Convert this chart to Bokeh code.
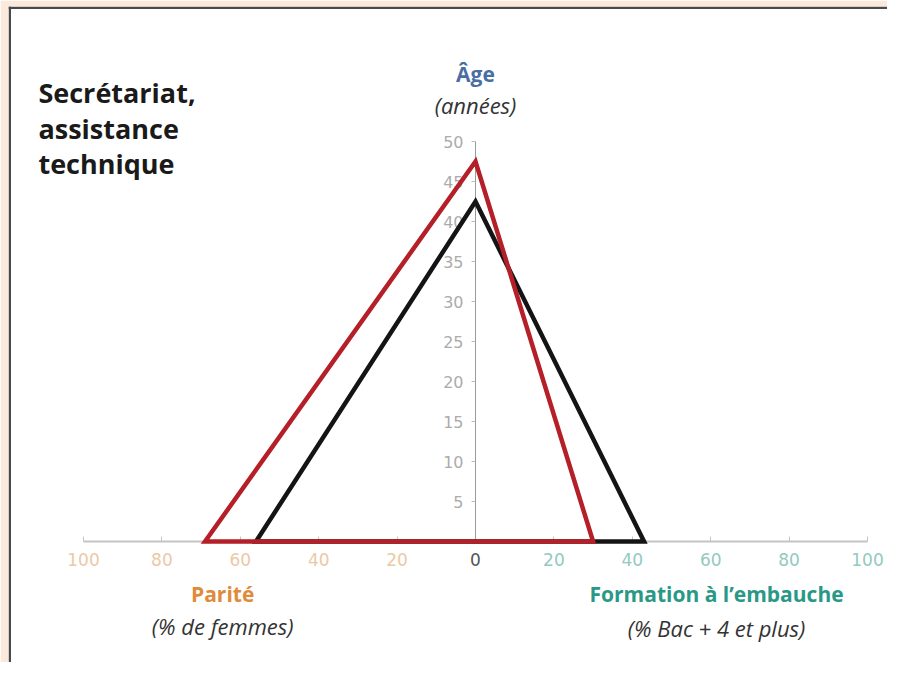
from bokeh.plotting import figure
from bokeh.models import LinearAxis, FixedTicker, Label, Range1d, Span
from bokeh.embed import file_html
from bokeh.resources import INLINE

# ---- data ----
series_names = ["Ensemble", "Secrétariat, assistance technique"]
parite = [56, 69]          # % de femmes (plotted to the left)
formation = [43, 30]       # % Bac+4 et plus (plotted to the right)
age = [42.5, 47.5]         # années (vertical)
series_colors = ["#141414", "#b51f27"]

x_ticks_side = [20, 40, 60, 80, 100]
y_ticks = [5, 10, 15, 20, 25, 30, 35, 40, 45, 50]

W, H = 887, 662
X0, X1, Y0, Y1 = -119.13, 105.1, -15.125, 66.875
p = figure(width=W, height=H, output_backend="svg", toolbar_location=None,
           x_range=Range1d(X0, X1), y_range=Range1d(Y0, Y1),
           x_axis_type=None, y_axis_type=None,
           min_border=0, min_border_left=8, min_border_right=0,
           min_border_top=6, min_border_bottom=0)
p.background_fill_color = "white"
p.border_fill_color = "#fbe9dc"
p.outline_line_color = None

# frame border (top and left only, as in the cropped original)
p.add_layout(Span(location=Y1 - 0.16, dimension="width", line_color="#4a4a4a", line_width=2.5))
p.add_layout(Span(location=X0 + 0.32, dimension="height", line_color="#4a4a4a", line_width=2.5))

# ---- axes ----
axis_gray = "#c4c4c4"
left_ax = LinearAxis(fixed_location=0, bounds=(-100, 0),
                     ticker=FixedTicker(ticks=[-t for t in x_ticks_side]),
                     major_label_overrides={-t: str(t) for t in x_ticks_side})
right_ax = LinearAxis(fixed_location=0, bounds=(0, 100),
                      ticker=FixedTicker(ticks=x_ticks_side))
zero_ax = LinearAxis(fixed_location=0, ticker=FixedTicker(ticks=[0]))
for ax, col in [(left_ax, "#ebc9a6"), (right_ax, "#93c9c0"), (zero_ax, "#555555")]:
    is_zero = ax is zero_ax
    ax.axis_line_color = None if is_zero else axis_gray
    ax.axis_line_width = 2
    ax.major_tick_line_color = None if is_zero else axis_gray
    ax.major_tick_in = 5
    ax.major_tick_out = 0
    ax.minor_tick_line_color = None
    ax.major_label_text_color = col
    ax.major_label_text_font = "DejaVu Sans"
    ax.major_label_text_font_size = "17px"
    ax.major_label_standoff = 11
    ax.level = "underlay"
    p.add_layout(ax, "below")

y_ax = LinearAxis(fixed_location=0, bounds=(0, 50), ticker=FixedTicker(ticks=y_ticks))
y_ax.axis_line_color = "#9a9a9a"
y_ax.axis_line_width = 1
y_ax.major_tick_line_color = "#bbbbbb"
y_ax.major_tick_in = 0
y_ax.major_tick_out = 4
y_ax.minor_tick_line_color = None
y_ax.major_label_text_color = "#ababab"
y_ax.major_label_text_font = "DejaVu Sans"
y_ax.major_label_text_font_size = "16px"
y_ax.major_label_standoff = 8
y_ax.level = "underlay"
p.add_layout(y_ax, "left")

# ---- triangles ----
xs = [[-parite[i], 0, formation[i]] for i in range(len(parite))]
ys = [[0, age[i], 0] for i in range(len(parite))]
p.patches(xs, ys, fill_color=None, line_color=series_colors, line_width=4.5,
          line_join="miter")

# ---- texts ----
def lab(x, y, t, color, size, style="normal", align="center"):
    p.add_layout(Label(x=x, y=y, text=t, text_color=color, text_font="Open Sans",
                       text_font_size=size, text_font_style=style,
                       text_align=align, text_baseline="middle"))

lab(-111.5, 56.1, "Secrétariat,", "#1a1a1a", "27px", "bold", "left")
lab(-111.5, 51.6, "assistance", "#1a1a1a", "27px", "bold", "left")
lab(-111.5, 47.2, "technique", "#1a1a1a", "27px", "bold", "left")

lab(0, 58.5, "Âge", "#4a6ea3", "21px", "bold")
lab(0, 54.6, "(années)", "#333333", "22px", "italic")
lab(-64.5, -6.5, "Parité", "#e08a3a", "21px", "bold")
lab(-64.5, -10.6, "(% de femmes)", "#333333", "22px", "italic")
lab(61.5, -6.5, "Formation à l\u2019embauche", "#2a9886", "21px", "bold")
lab(61.5, -10.8, "(% Bac + 4 et plus)", "#333333", "22px", "italic")

open("out.html", "w").write(file_html(p, INLINE))
